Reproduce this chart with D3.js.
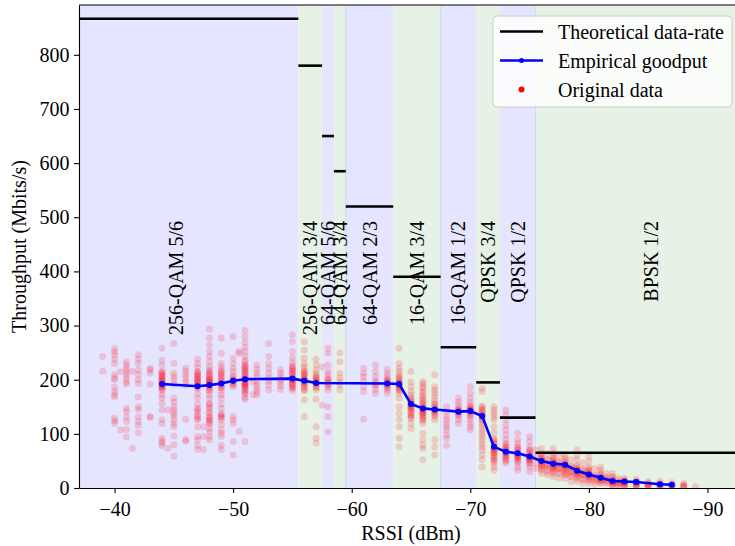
<!DOCTYPE html>
<html><head><meta charset="utf-8">
<script src="https://cdn.jsdelivr.net/npm/d3@7"></script>
<style>
html,body{margin:0;padding:0;background:#fff;}
svg{display:block;font-family:"Liberation Serif","Times New Roman",serif;}
</style></head>
<body>
<svg id="chart" width="735" height="546"></svg>
<script>
// ---------- data ----------
const rateNames = ["256-QAM 5/6","256-QAM 3/4","64-QAM 5/6","64-QAM 3/4","64-QAM 2/3","16-QAM 3/4","16-QAM 1/2","QPSK 3/4","QPSK 1/2","BPSK 1/2"];
const rateValues = [866.7, 780, 650, 585, 520, 390, 260, 195, 130, 65];
const bandEdges = [-34.8, -55.5, -57.5, -58.5, -59.5, -63.5, -67.5, -70.5, -72.5, -75.5, -95];

const goodRssi = [-44,-47,-48,-49,-50,-51,-55,-56,-57,-63,-64,-65,-66,-67,-69,-70,-71,-72,-73,-74,-75,-76,-77,-78,-79,-80,-81,-82,-83,-84,-86,-87];
const goodVals = [192,188,190,193,198,201,202,198,194,193,192,155,147,145,141,142,133,76,67,64,58,50,45,43,32,25,19,13,12,11,7,6];

// sparse samples (outer spread of each RSSI column)
const scatterRssi = [-39,-40,-40.5,-41,-41.5,-42,-43,-44,-44.5,-45,-46,-47,-47.5,-48,-49,-50,-50.5,-51,-51.7,-52,-53,-54,-55,-56,-57,-57.5,-58,-59,-61,-62,-63,-64,-65,-66,-67,-68,-69,-70,-71,-72,-73,-74,-75,-75.5,-76,-76.5,-77,-77.5,-78,-78.5,-79,-79.5,-80,-80.5,-81,-81.5,-82,-82.5,-83,-84,-85,-86,-87,-88,-89];
const scatterVals = [
  [243,216],
  [258,252,246,238,230,209,203,200,186,178,172,168,129,124,119],
  [107,215],
  [233,227,221,215,209,203,196,192,147,141,131,123,108,94],
  [215,73],
  [246,238,230,218,209,200,193,168,150,145,131,123,116,102],
  [221,218,212,192,131,131],
  [258,236,227,215,211,206,201,197,190,186,181,172,166,156,144,126,119,92,87,83,78],
  [144,73],
  [267,230,212,206,200,192,166,159,150,144,138,133,126,119,113,96,80,59],
  [221,215,209,203,196,190,127,89,87],
  [238,230,223,215,209,204,200,195,190,184,175,166,155,147,141,132,126,113,95,89,79,71],
  [113,71,95],
  [293,277,264,252,243,233,224,218,212,206,201,198,193,186,181,172,166,156,147,138,131,126,119,110,104,95,89],
  [277,249,230,224,218,212,206,198,192,186,180,172,166,155,147,137,132,126,117,107,101,95,79,71],
  [280,240,230,221,215,207,200,193,187,132,126,119,86,61],
  [249,252,105],
  [291,280,269,260,252,243,236,232,227,223,218,214,209,204,200,194,190,186,181,175,167,164,86],
  [196,172],
  [227,219,212,206,197,190,184,178,172],
  [267,243,230,221,212,203,197,190,181],
  [219,212,206,200,195,189,182],
  [283,270,252,240,232,224,219,215,209,203,198,193,189,184,180],
  [270,255,240,230,224,218,213,209,204,200,195,189,181,163,132],
  [238,227,218,212,207,203,198,193,187,181,164,113,92,83],
  [153,224],
  [258,249,227,215,209,203,198,193,187,181,150,132,104],
  [250,233,212,203,196,190,181],
  [221,212,206,197,187,178,127],
  [227,215,206,197,190,182,175],
  [219,212,206,200,197,192,187,181,175],
  [258,230,221,215,209,203,196,190,186,181,175,166,150,138,126,113,92,76],
  [215,196,187,178,172,166,159,153,147,141,135,129,119,110],
  [196,193,187,184,178,175,170,166,163,156,150,144,138,132,126,119,101,89,79,73,52],
  [209,187,181,175,169,162,156,150,144,138,132,126,89,76,61],
  [150,141,132,126,119,113,107,98,92,79],
  [166,159,153,147,143,138,133,126,119],
  [187,175,166,159,153,147,143,138,132,126,119,113,107],
  [184,178,150,144,138,132,126,119,113,107,101,95,89,82,76,70,61,52,39],
  [150,144,138,132,126,113,101,89,82,76,70,64,58,52,46,39,33],
  [144,135,126,116,107,98,89,82,76,70,64,58,52,46],
  [101,89,82,76,70,64,58,52,46,39,33],
  [95,86,76,70,64,58,52,46,39,30],
  [70,58,46,36],
  [73,64,58,52,46,39,33,27],
  [64,52,42,33,24],
  [73,64,58,52,46,39,33,27,21],
  [58,46,36,27,18],
  [61,55,49,42,36,30,24,18],
  [52,40,30,21,12],
  [70,61,52,42,36,30,24,18,12],
  [46,33,24,15,9],
  [58,49,39,33,27,21,15,9],
  [36,24,15,7],
  [39,33,27,21,15,9],
  [27,18,9],
  [27,21,15,9,4],
  [18,10,5],
  [18,13,9,4],
  [16,12,7,4],
  [12,7,4],
  [12,7,4],
  [10,5],
  [9,4],
  [3]
];

// dense samples (repeated measurements around each column's core)
const coreRssi = [-44,-47,-48,-49,-50,-51,-55,-56,-57,-58,-62,-63,-64,-65,-66,-67,-69,-70,-71,-72,-73,-74,-75,-76,-76.5,-77,-77.5,-78,-78.5,-79,-79.5,-80,-80.5,-81,-81.5,-82,-82.5,-83,-84,-85,-86,-87,-88];
const coreVals = [
  [182,186,190,194,198,202,206,210,214,188,196],
  [186,190,194,198,202,206,210,214,135,145,128],
  [180,185,190,195,200,205,210,215,195,200,150,140,130,120,155,125],
  [185,190,195,200,205,210,215,130,135],
  [190,195,200,205,198],
  [175,180,185,190,195,200,205,210,215,220,225,200,195,190],
  [185,190,195,200,205,210,215,220,225,200],
  [180,185,190,195,200,205,210,215,200,195],
  [185,190,195,200,205,195],
  [190,195,200],
  [190,195],
  [185,190,195,200,192],
  [180,185,190,195,200,205,192,188],
  [130,135,140,145,150,155,160,165,148,152],
  [125,130,135,140,145,150,155,160,142,148,138],
  [135,140,145,150,155,142],
  [135,140,145,142],
  [135,140,145,150,142,146],
  [125,130,135,140,145,150,135],
  [50,55,60,65,70,75,80,85,90,72,66],
  [50,55,60,65,70,75,80,62,68],
  [50,55,60,65,70,75,62,58],
  [45,50,55,60,65,70,55,52],
  [35,40,45,50,55,60,48,42,52],
  [38,45,52,30,42],
  [30,35,40,45,50,55,42,38,46],
  [28,35,42,48,38],
  [25,30,35,40,45,50,38,42],
  [22,28,35,40,32],
  [20,25,30,35,40,28,32],
  [18,24,30,35,26],
  [15,20,25,30,35,22,26],
  [12,18,24,20],
  [10,15,20,25,18,14],
  [10,15,20,13],
  [5,10,15,20,12,8],
  [6,10,14,9],
  [5,8,12,15,10,6],
  [4,8,12,10,6],
  [3,6,9,5],
  [3,6,9,5,4],
  [3,6,4,5],
  [2,5,3]
];

const xTicks = [-40,-50,-60,-70,-80,-90];
const yTicks = [0,100,200,300,400,500,600,700,800];

// ---------- chart ----------
const svg = d3.select("#chart");
const L = 79, R = 743, T = 5, B = 488;
const x = d3.scaleLinear().domain([-37, -93]).range([L, R]);
const y = d3.scaleLinear().domain([0, 892]).range([B, T]);

svg.append("defs").append("clipPath").attr("id","clip")
  .append("rect").attr("x",L).attr("y",T).attr("width",R-L).attr("height",B-T);
const plot = svg.append("g").attr("clip-path","url(#clip)");

// bands
const bands = rateNames.map((n,i)=>({name:n, a:bandEdges[i], b:bandEdges[i+1], v:rateValues[i], i}));
plot.selectAll("rect.band").data(bands).enter().append("rect")
  .attr("x", d=>x(d.a)).attr("width", d=>x(d.b)-x(d.a))
  .attr("y", T).attr("height", B-T)
  .attr("fill", d=> d.i%2===0 ? "#e5e5ff" : "#e5f2e5");
plot.selectAll("line.edge").data([bandEdges[4], bandEdges[6], bandEdges[9]]).enter().append("line")
  .attr("x1", d=>x(d)).attr("x2", d=>x(d)).attr("y1",T).attr("y2",B)
  .attr("stroke","rgba(80,90,200,0.15)").attr("stroke-width",1);

// scatter
const pts = [];
scatterRssi.forEach((r,i)=>scatterVals[i].forEach(v=>pts.push([r,v])));
coreRssi.forEach((r,i)=>coreVals[i].forEach(v=>pts.push([r,v])));
plot.append("g").selectAll("circle").data(pts).enter().append("circle")
  .attr("cx", d=>x(d[0])).attr("cy", d=>y(d[1])).attr("r", 3.5)
  .attr("fill","#ff0010").attr("fill-opacity",0.16);

// theoretical lines
plot.selectAll("line.theo").data(bands).enter().append("line")
  .attr("x1", d=>x(d.a)).attr("x2", d=>x(d.b))
  .attr("y1", d=>y(d.v)).attr("y2", d=>y(d.v))
  .attr("stroke","#000").attr("stroke-width",2.6);

// goodput
const gp = goodRssi.map((r,i)=>[r, goodVals[i]]);
plot.append("path").datum(gp)
  .attr("d", d3.line().x(d=>x(d[0])).y(d=>y(d[1])))
  .attr("fill","none").attr("stroke","#0000ff").attr("stroke-width",2.6).attr("stroke-linejoin","round");
plot.append("g").selectAll("circle").data(gp).enter().append("circle")
  .attr("cx", d=>x(d[0])).attr("cy", d=>y(d[1])).attr("r",3).attr("fill","#0000ff");

// band labels
plot.selectAll("text.lbl").data(bands).enter().append("text")
  .attr("transform", d=>`translate(${x((d.a+d.b)/2)},${y(493)}) rotate(-90)`)
  .attr("text-anchor","end").attr("dy","0.35em")
  .attr("font-size",20).attr("fill","#000")
  .text(d=>d.name);

// axes
const xAxis = svg.append("g").attr("transform",`translate(0,${B})`)
  .call(d3.axisBottom(x).tickValues(xTicks).tickSize(5).tickSizeOuter(0).tickPadding(9));
const yAxis = svg.append("g").attr("transform",`translate(${L},0)`)
  .call(d3.axisLeft(y).tickValues(yTicks).tickSize(5).tickSizeOuter(0).tickPadding(4.5));
[xAxis,yAxis].forEach(g=>{
  g.attr("font-family",null).attr("font-size",null);
  g.selectAll("text").attr("font-size",20).attr("fill","#000");
  g.selectAll("line").attr("stroke","#000").attr("stroke-width",1.1);
  g.select(".domain").attr("stroke","#000").attr("stroke-width",1.1);
});
svg.append("line").attr("x1",L).attr("x2",R).attr("y1",T).attr("y2",T).attr("stroke","#000").attr("stroke-width",1.1);

// axis labels
svg.append("text").attr("x",(L+R)/2).attr("y",540).attr("text-anchor","middle")
  .attr("font-size",20).text("RSSI (dBm)");
svg.append("text").attr("transform",`translate(26,${(T+B)/2}) rotate(-90)`).attr("text-anchor","middle")
  .attr("font-size",20).text("Throughput (Mbits/s)");

// legend
const lg = svg.append("g").attr("transform","translate(493,16)");
lg.append("rect").attr("width",239).attr("height",91).attr("rx",4)
  .attr("fill","#fff").attr("fill-opacity",0.8).attr("stroke","#ccc").attr("stroke-width",1);
const items = [
  {t:"Theoretical data-rate", type:"black"},
  {t:"Empirical goodput", type:"blue"},
  {t:"Original data", type:"dot"}
];
items.forEach((it,i)=>{
  const cy = 15.5 + i*29;
  const g = lg.append("g");
  if (it.type!=="dot") {
    g.append("line").attr("x1",7).attr("x2",50).attr("y1",cy).attr("y2",cy)
      .attr("stroke", it.type==="black" ? "#000" : "#0000ff").attr("stroke-width",2.6);
  }
  if (it.type==="blue") g.append("circle").attr("cx",28.5).attr("cy",cy).attr("r",2.5).attr("fill","#0000ff");
  if (it.type==="dot") g.append("circle").attr("cx",28.5).attr("cy",cy).attr("r",3).attr("fill","red");
  g.append("text").attr("x",65).attr("y",cy+7).attr("font-size",20).text(it.t);
});
</script>
</body></html>
